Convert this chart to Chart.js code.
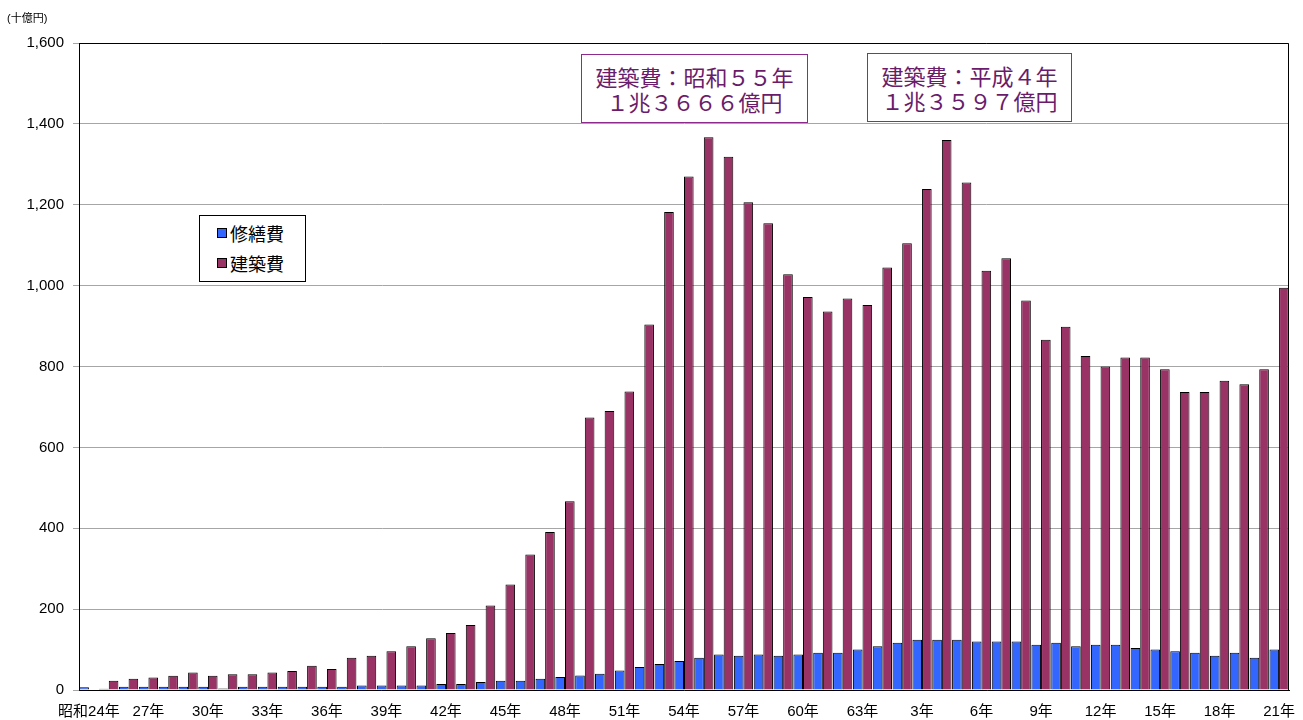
<!DOCTYPE html>
<html lang="ja">
<head>
<meta charset="utf-8">
<script src="https://cdn.jsdelivr.net/npm/chart.js@4/dist/chart.umd.min.js"></script>
<style>
  html,body{margin:0;padding:0;background:#fff;}
  #wrap{position:relative;width:1303px;height:720px;font-family:"Liberation Sans","Noto Sans CJK JP",sans-serif;}
  #unit{position:absolute;left:7px;top:9px;font-size:11px;color:#000;}
  .note{position:absolute;border:1.5px solid #8e2a8e;background:#fff;color:#6a1c6a;
    font-family:"Noto Sans CJK JP",sans-serif;font-size:22px;line-height:25px;text-align:center;box-sizing:border-box;padding-top:9px;}
  #legend{position:absolute;left:199px;top:215px;width:107px;height:67px;border:1px solid #000;background:#fff;box-sizing:border-box;
    font-family:"Noto Sans CJK JP",sans-serif;font-size:18px;color:#000;}
  #legend .it{position:absolute;left:17px;display:flex;align-items:center;}
  #legend .sw{width:10px;height:10px;border:1px solid #000;margin-right:3px;box-sizing:border-box;}
</style>
</head>
<body>
<div id="wrap">
  <canvas id="c" width="1303" height="720"></canvas>
  <div id="unit">(十億円)</div>
  <div id="legend"></div>
  <div class="note" style="left:581px;top:54px;width:227px;height:69px;">建築費：昭和５５年<br>１兆３６６６億円</div>
  <div class="note" style="left:867px;top:53px;width:205px;height:69px;">建築費：平成４年<br>１兆３５９７億円</div>
</div>
<script>
const years = ['昭和24年','25年','26年','27年','28年','29年','30年','31年','32年','33年',
  '34年','35年','36年','37年','38年','39年','40年','41年','42年','43年',
  '44年','45年','46年','47年','48年','49年','50年','51年','52年','53年',
  '54年','55年','56年','57年','58年','59年','60年','61年','62年','63年',
  '元年','2年','3年','4年','5年','6年','7年','8年','9年','10年',
  '11年','12年','13年','14年','15年','16年','17年','18年','19年','20年','21年'];

// 修繕費 (十億円)
const repair = [7,3,8,8,8,8,8,4,8,8,
  8,8,8,8,11,11,11,11,15,15,
  20,23,23,28,32,36,40,48,57,64,
  72,80,88,85,88,85,88,92,92,100,
  108,117,124,124,124,120,120,120,112,117,
  108,112,112,104,100,96,92,85,92,80,100];

// 建築費 (十億円)
const construction = [null,23,28,31,35,43,35,39,39,43,
  47,60,52,80,85,96,108,128,141,161,
  209,261,335,391,467,674,690,738,904,1182,
  1270,1367,1319,1206,1154,1028,972,936,968,952,
  1045,1105,1239,1360,1255,1037,1068,963,866,898,
  826,800,822,822,793,737,737,765,756,793,995];

const yTicks = [0,200,400,600,800,1000,1200,1400,1600];

const seriesNames = ['修繕費','建築費'];
const seriesColors = ['#3366ff','#993366'];

document.getElementById('legend').innerHTML = seriesNames.map((n,i)=>
  `<div class="it" style="top:${i*30+4}px"><span class="sw" style="background:${seriesColors[i]}"></span>${n}</div>`
).join('');

Chart.defaults.font.family = '"Liberation Sans","Noto Sans CJK JP",sans-serif';
Chart.defaults.color = '#000';

const frame = {
  id:'frame',
  afterDraw(chart){
    const {ctx, chartArea:a} = chart;
    ctx.save();
    ctx.strokeStyle = '#000'; ctx.lineWidth = 1;
    ctx.beginPath();
    ctx.moveTo(Math.round(a.left)+0.5, Math.round(a.top)+0.5);
    ctx.lineTo(Math.round(a.right)-0.5, Math.round(a.top)+0.5);
    ctx.lineTo(Math.round(a.right)-0.5, Math.round(a.bottom));
    ctx.stroke();
    ctx.restore();
  }
};

new Chart(document.getElementById('c').getContext('2d'), {
  type:'bar',
  data:{
    labels: years,
    datasets:[
      {label:seriesNames[0], data:repair, backgroundColor:seriesColors[0], borderColor:'#000', borderWidth:1},
      {label:seriesNames[1], data:construction, backgroundColor:seriesColors[1], borderColor:'#000', borderWidth:1}
    ]
  },
  options:{
    responsive:false, animation:false, devicePixelRatio:1,
    layout:{padding:{top:43,right:14,left:0,bottom:0}},
    datasets:{bar:{categoryPercentage:0.97, barPercentage:1}},
    plugins:{legend:{display:false}, tooltip:{enabled:false}},
    scales:{
      x:{
        grid:{display:true, drawOnChartArea:false, drawTicks:false},
        border:{display:true, color:'#000', width:1},
        ticks:{autoSkip:false, maxRotation:0, minRotation:0, padding:13, font:{size:15},
          callback:(v,i)=> i%3===0 ? years[i] : ''},
        afterFit:s=>{ s.height = 30; s.paddingLeft = 0; s.paddingRight = 0; }
      },
      y:{
        min:0, max:1600,
        afterBuildTicks:s=>{ s.ticks = yTicks.map(v=>({value:v})); },
        grid:{color:'#a6a6a6', tickLength:6, tickColor:'#a6a6a6'},
        border:{display:true, color:'#000', width:1},
        ticks:{padding:9, font:{size:15}, callback:v=>v.toLocaleString('en-US')},
        afterFit:s=>{ s.width = 79; }
      }
    }
  },
  plugins:[frame]
});
</script>
</body>
</html>
